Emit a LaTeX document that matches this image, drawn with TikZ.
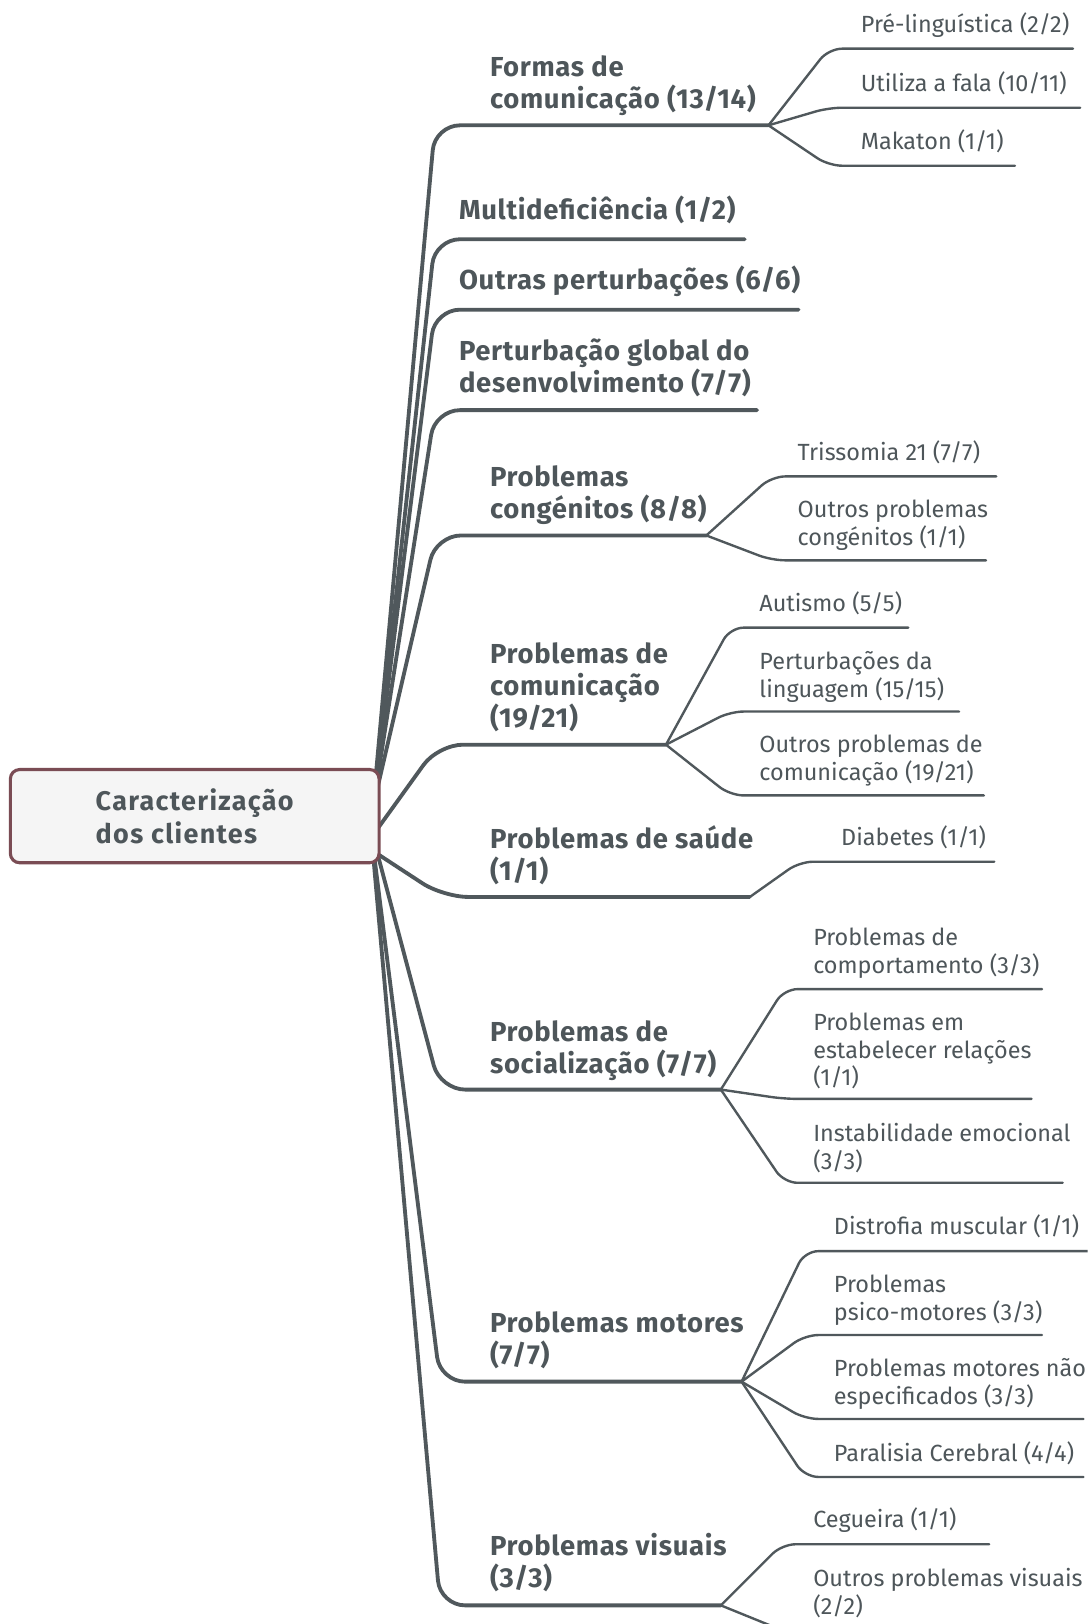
\documentclass[tikz,border=0pt]{standalone}
\usepackage{fontspec}
\setmainfont{Fira Sans}
\newfontfamily\branchfont[LetterSpace=2.5]{Fira Sans}
\newfontfamily\rootfont[LetterSpace=5]{Fira Sans}

\definecolor{inkc}{RGB}{80,88,92}
\definecolor{txtc}{RGB}{78,86,90}
\definecolor{boxc}{RGB}{122,76,84}
\definecolor{boxfill}{RGB}{245,245,245}

\tikzset{
  trunk/.style={draw=inkc, line width=3.7pt, rounded corners=24pt, line cap=round},
  twig/.style={draw=inkc, line width=2.3pt, rounded corners=13pt, line cap=round},
  mainlbl/.style={anchor=south west, inner sep=0pt, align=left, text=txtc,
    font=\branchfont\fontsize{26.5}{31}\selectfont\bfseries},
  sublbl/.style={anchor=south west, inner sep=0pt, align=left, text=txtc,
    font=\fontsize{22.6}{27}\selectfont},
  rootbox/.style={draw=boxc, line width=3pt, fill=boxfill, rounded corners=9pt,
    minimum width=356pt, minimum height=90pt, align=left, text=txtc,
    font=\rootfont\fontsize{26}{32}\selectfont\bfseries}
}

% main branch: name, origin, corner x, line y, end x, label x, text, label shift
\newcommand\limb[8]{%
  \coordinate (#1-a) at (#3,#4);
  \coordinate (#1-b) at (#5,#4);
  \node[mainlbl] (#1) at (#6,#4-13+#8) {#7};
  \draw[trunk] (#2) -- (#1-a) -- (#1-b);
}
% sub branch: name, fork, corner x, line y, end x, label x, text, label shift
\newcommand\leaf[8]{%
  \coordinate (#1-a) at (#3,#4);
  \coordinate (#1-b) at (#5,#4);
  \node[sublbl] (#1) at (#6,#4-12+#8) {#7};
  \draw[twig] (#2) -- (#1-a) -- (#1-b);
}

\begin{document}
\begin{tikzpicture}[x=1pt,y=-1pt]
\useasboundingbox (0,0) rectangle (1050,1568);
\clip (0,0) rectangle (1050,1568);
\fill[white] (0,0) rectangle (1050,1568);

% roots of the branches, hidden behind the central box
\coordinate (rU) at (360,780);
\coordinate (rC) at (356,812);
\coordinate (rS) at (350,815);
\coordinate (rL) at (358,800);

\limb{formas}{rU}{420}{121}{742}{473}{Formas de\\comunicação (13/14)}{4}
\limb{multi}{rU}{420}{231}{719}{443}{Multideficiência (1/2)}{-2}
\limb{outras}{rU}{420}{299}{771}{443}{Outras perturbações (6/6)}{1}
\limb{pgd}{rU}{420}{396}{731}{443}{Perturbação global do\\desenvolvimento (7/7)}{0}
\limb{cong}{rU}{421}{517}{682}{473}{Problemas\\congénitos (8/8)}{3}
\limb{comun}{rC}{423}{719}{643}{473}{Problemas de\\comunicação\\(19/21)}{1}
\limb{saude}{rS}{428}{866}{724}{473}{Problemas de saúde\\(1/1)}{2}
\limb{social}{rL}{425}{1052}{696}{473}{Problemas de\\socialização (7/7)}{5}
\limb{motor}{rL}{425}{1334}{716}{473}{Problemas motores\\(7/7)}{1}
\limb{visual}{rL}{425}{1550}{696}{473}{Problemas visuais\\(3/3)}{0}

\leaf{pre}{formas-b}{800}{47}{1036}{831}{Pré-linguística (2/2)}{1}
\leaf{fala}{formas-b}{800}{104}{1043}{831}{Utiliza a fala (10/11)}{0}
\leaf{mak}{formas-b}{800}{160}{980}{831}{Makaton (1/1)}{0}
\leaf{tri}{cong-b}{745}{460}{962}{770}{Trissomia 21 (7/7)}{0}
\leaf{ocong}{cong-b}{745}{541}{952}{770}{Outros problemas\\congénitos (1/1)}{3}
\leaf{aut}{comun-b}{705}{606}{877}{733}{Autismo (5/5)}{0}
\leaf{ling}{comun-b}{705}{687}{926}{733}{Perturbações da\\linguagem (15/15)}{3}
\leaf{ocom}{comun-b}{705}{768}{950}{733}{Outros problemas de\\comunicação (19/21)}{3}
\leaf{diab}{saude-b}{772}{832}{960}{812}{Diabetes (1/1)}{0}
\leaf{comp}{social-b}{757}{955}{1006}{785}{Problemas de\\comportamento (3/3)}{2}
\leaf{rel}{social-b}{757}{1061}{996}{785}{Problemas em\\estabelecer relações\\(1/1)}{3}
\leaf{inst}{social-b}{757}{1142}{1026}{785}{Instabilidade emocional\\(3/3)}{3}
\leaf{dist}{motor-b}{777}{1208}{1050}{805}{Distrofia muscular (1/1)}{-1}
\leaf{psico}{motor-b}{777}{1289}{1006}{805}{Problemas\\psico-motores (3/3)}{3}
\leaf{nesp}{motor-b}{777}{1370}{1046}{805}{Problemas motores não\\especificados (3/3)}{3}
\leaf{paral}{motor-b}{777}{1426}{1046}{805}{Paralisia Cerebral (4/4)}{1}
\leaf{ceg}{visual-b}{755}{1491}{955}{785}{Cegueira (1/1)}{1}
\leaf{ovis}{visual-b}{760}{1576}{1040}{785}{Outros problemas visuais\\(2/2)}{-2}

% central topic, drawn over the branch roots
\node[rootbox] (root) at (188,788) {Caracterização\\dos clientes};
\end{tikzpicture}
\end{document}
